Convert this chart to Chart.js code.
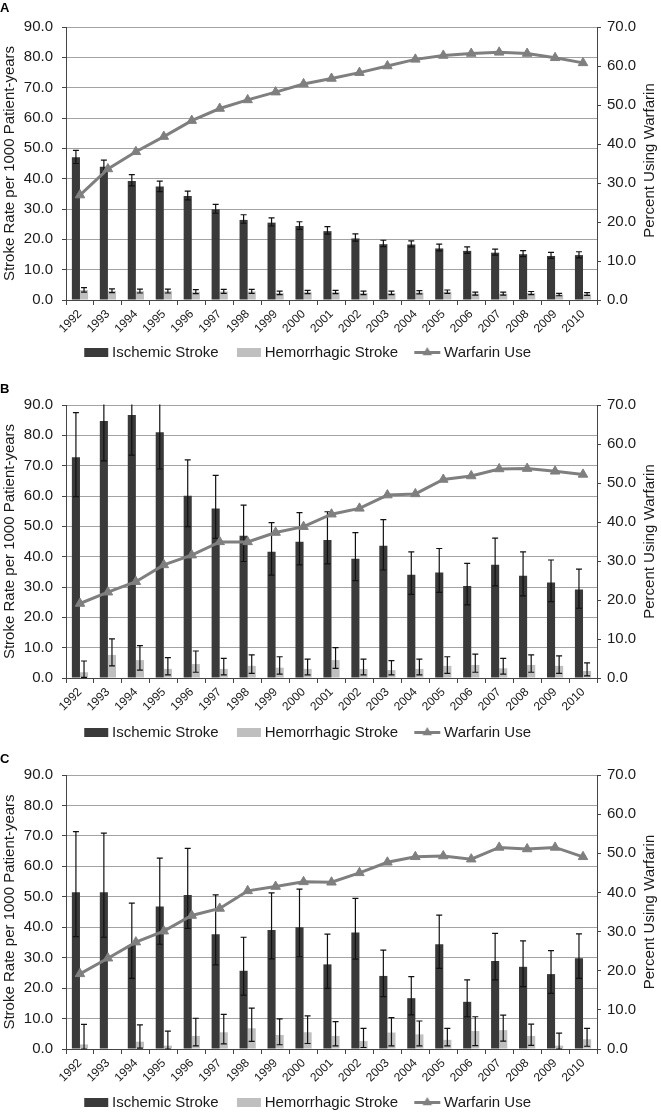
<!DOCTYPE html>
<html><head><meta charset="utf-8">
<script src="https://cdn.jsdelivr.net/npm/chart.js@4.4.1/dist/chart.umd.min.js"></script>
<style>
html,body{margin:0;padding:0;background:#fff;overflow:hidden;width:661px;height:1112px;}
.panel{position:absolute;left:0;width:661px;}
canvas{display:block;}
</style></head><body>
<div class="panel" style="top:0px"><canvas id="cA" width="661" height="370"></canvas></div>
<div class="panel" style="top:378px"><canvas id="cB" width="661" height="372"></canvas></div>
<div class="panel" style="top:748px"><canvas id="cC" width="661" height="372"></canvas></div>
<script>
// ---------- DATA ----------
const years = ['1992','1993','1994','1995','1996','1997','1998','1999','2000','2001','2002','2003','2004','2005','2006','2007','2008','2009','2010'];
const leftTicks = [0,10,20,30,40,50,60,70,80,90];
const rightTicks = [0,10,20,30,40,50,60,70];
const seriesNames = ['Ischemic Stroke','Hemorrhagic Stroke','Warfarin Use'];
const yTitleLeft = 'Stroke Rate per 1000 Patient-years';
const yTitleRight = 'Percent Using Warfarin';

// Panel A
const aIschemic     = [47.1,43.9,39.2,37.4,34.3,29.9,26.4,25.5,24.4,22.7,20.3,18.4,18.3,17.0,16.2,15.6,15.1,14.5,14.8];
const aIschemicLow  = [45.0,42.0,37.6,35.7,33.0,28.6,25.3,24.4,23.3,21.7,19.4,17.6,17.5,16.2,15.4,14.8,14.3,13.7,13.9];
const aIschemicHigh = [49.3,46.1,41.3,39.2,35.9,31.5,28.1,27.1,25.8,24.2,21.8,19.7,19.5,18.4,17.5,16.8,16.3,15.7,15.9];
const aHemorrhagic     = [3.3,3.0,2.9,2.9,2.7,2.8,2.8,2.3,2.6,2.6,2.3,2.3,2.5,2.7,2.1,2.1,2.3,1.8,1.9];
const aHemorrhagicLow  = [2.6,2.4,2.3,2.3,2.1,2.2,2.2,1.8,2.1,2.1,1.8,1.8,2.0,2.2,1.6,1.6,1.8,1.4,1.5];
const aHemorrhagicHigh = [4.1,3.7,3.6,3.6,3.4,3.5,3.5,2.9,3.2,3.2,2.9,2.9,3.1,3.3,2.6,2.6,2.8,2.2,2.4];
const aWarfarin = [26.9,33.6,38.0,41.9,46.0,49.1,51.3,53.3,55.4,56.8,58.3,60.0,61.7,62.7,63.2,63.5,63.2,62.1,60.8];

// Panel B
const bIschemic     = [72.8,84.7,86.7,81.0,60.1,55.9,46.9,41.6,44.9,45.5,39.3,43.6,34.0,34.8,30.3,37.3,33.7,31.5,29.2];
const bIschemicLow  = [59.8,71.6,73.5,68.9,49.9,46.0,38.4,33.9,37.3,37.6,32.1,35.6,27.6,28.2,24.1,30.4,27.1,25.2,23.0];
const bIschemicHigh = [87.5,99.0,101.0,94.0,71.9,66.8,57.0,51.2,54.5,54.8,47.9,52.2,41.6,42.7,37.8,46.1,41.6,38.9,35.9];
const bHemorrhagic     = [1.9,7.6,5.9,3.0,4.6,3.0,4.0,3.4,3.0,5.9,3.0,2.6,3.0,4.0,4.3,3.2,4.3,4.0,2.3];
const bHemorrhagicLow  = [0.2,4.0,2.6,1.0,1.9,1.0,1.5,1.3,1.0,3.2,1.0,1.0,1.0,1.5,1.9,1.3,1.9,1.5,0.7];
const bHemorrhagicHigh = [5.6,12.9,10.7,6.7,8.9,6.5,7.6,7.0,6.2,10.0,6.2,5.7,6.2,7.0,7.9,6.5,7.6,7.3,5.0];
const bWarfarin = [19.1,22.0,24.7,29.0,31.5,34.9,34.9,37.3,38.8,42.0,43.5,46.9,47.2,50.9,51.8,53.6,53.7,53.0,52.2];

// Panel C
const cIschemic     = [51.5,51.5,34.2,46.8,50.6,37.7,25.7,39.1,40.0,27.8,38.3,24.0,16.7,34.4,15.5,28.9,27.0,24.6,29.8];
const cIschemicLow  = [36.9,36.7,23.2,34.4,39.6,27.6,17.7,29.6,30.3,19.9,29.5,17.2,11.2,26.5,10.6,22.7,20.5,18.3,23.2];
const cIschemicHigh = [71.4,70.9,47.9,62.7,65.9,50.6,36.7,51.3,52.5,37.7,49.5,32.5,23.8,44.0,22.7,38.0,35.5,32.3,37.8];
const cHemorrhagic     = [1.5,null,2.4,1.1,4.3,5.5,6.8,4.6,5.5,4.3,2.6,5.4,4.8,3.0,5.9,6.2,4.3,1.1,3.2];
const cHemorrhagicLow  = [0.0,null,0.3,0.0,1.0,1.7,2.5,1.4,1.8,1.0,0.5,1.0,1.0,1.0,1.1,2.6,1.2,0.0,0.9];
const cHemorrhagicHigh = [8.1,null,7.9,5.9,10.1,11.4,13.4,9.9,10.9,9.0,6.8,10.3,9.2,6.8,10.6,11.1,8.2,5.2,6.8];
const cWarfarin = [19.2,23.2,27.3,30.1,34.1,35.9,40.4,41.5,42.7,42.6,45.0,47.7,49.1,49.3,48.5,51.5,51.1,51.5,49.1];

// ---------- STYLE ----------
const FONT = '"Liberation Sans", Arial, Helvetica, sans-serif';
const DARK = '#3a3a3a', LIGHT = '#bfbfbf', LINE = '#7f7f7f', GRID = '#a3a3a3', AXIS = '#454545', TEXT = '#1a1a1a';
Chart.defaults.font.family = FONT;
Chart.defaults.color = TEXT;

// legend swatches (drawn off-centre inside a wider transparent canvas so that
// the gap between swatch and text is small and the gap between items is larger)
function boxImg(color){
  const c = document.createElement('canvas'); c.width = 40; c.height = 9;
  const g = c.getContext('2d'); g.fillStyle = color; g.fillRect(14,0,24,9); return c;
}
function lineImg(){
  const c = document.createElement('canvas'); c.width = 40; c.height = 13;
  const g = c.getContext('2d');
  const m = 12;
  g.strokeStyle = LINE; g.lineWidth = 3; g.beginPath(); g.moveTo(m,6.5); g.lineTo(m+26,6.5); g.stroke();
  g.fillStyle = LINE; const r = 5.5, cx = m + 13; g.beginPath();
  g.moveTo(cx,6.5-r); g.lineTo(cx+r*0.866,6.5+r/2); g.lineTo(cx-r*0.866,6.5+r/2); g.closePath(); g.fill();
  return c;
}
const legendImgs = [boxImg(DARK), boxImg(LIGHT), lineImg()];

const errorBars = {
  id: 'errorBars',
  afterDatasetDraw(chart, args) {
    const ds = chart.data.datasets[args.index];
    if (!ds.errLow) return;
    const ys = chart.scales[ds.yAxisID || 'y'];
    const {ctx, chartArea} = chart;
    ctx.save();
    ctx.beginPath();
    ctx.rect(chartArea.left, chartArea.top - 0.5, chartArea.right - chartArea.left, chartArea.bottom - chartArea.top + 1);
    ctx.clip();
    ctx.strokeStyle = '#111'; ctx.lineWidth = 1.2;
    args.meta.data.forEach((bar, i) => {
      const lo = ds.errLow[i], hi = ds.errHigh[i];
      if (lo == null || hi == null || ds.data[i] == null) return;
      const x = bar.x;
      const yl = ys.getPixelForValue(lo), yh = ys.getPixelForValue(hi);
      ctx.beginPath();
      ctx.moveTo(x, yl); ctx.lineTo(x, yh);
      ctx.moveTo(x - 3, yh); ctx.lineTo(x + 3, yh);
      ctx.moveTo(x - 3, yl); ctx.lineTo(x + 3, yl);
      ctx.stroke();
    });
    ctx.restore();
  }
};

const rightTitle = {
  id: 'rightTitle',
  afterDraw(chart, args, opts) {
    const {ctx, chartArea} = chart;
    ctx.save();
    ctx.translate(opts.x, (chartArea.top + chartArea.bottom) / 2 + (opts.dy || 0));
    ctx.rotate(-Math.PI / 2);
    ctx.font = '15px ' + FONT;
    ctx.fillStyle = TEXT; ctx.textAlign = 'center'; ctx.textBaseline = 'middle';
    ctx.fillText(opts.text, 0, 0);
    ctx.restore();
  }
};

const legendShift = {
  id: 'legendShift',
  afterInit(chart, args, opts) {
    const lg = chart.legend;
    if (!lg) return;
    const orig = lg.draw;
    lg.draw = function(area) {
      const c = chart.ctx; c.save(); c.translate(opts.dx || 0, 0);
      orig.call(this, area); c.restore();
    };
  }
};

function makePanel(id, letter, P, d) {
  new Chart(document.getElementById(id), {
    data: {
      labels: years,
      datasets: [
        { type: 'bar', label: seriesNames[0], data: d.isc, errLow: d.iscLow, errHigh: d.iscHigh,
          backgroundColor: DARK, yAxisID: 'y', order: 1,
          categoryPercentage: 0.58, barPercentage: 1.0 },
        { type: 'bar', label: seriesNames[1], data: d.hem, errLow: d.hemLow, errHigh: d.hemHigh,
          backgroundColor: LIGHT, yAxisID: 'y', order: 2,
          categoryPercentage: 0.58, barPercentage: 1.0 },
        { type: 'line', label: seriesNames[2], data: d.war, yAxisID: 'y1', order: 0,
          borderColor: LINE, backgroundColor: LINE, borderWidth: 3, tension: 0,
          pointStyle: 'triangle', pointRadius: 5.5, pointBorderWidth: 1,
          pointBackgroundColor: LINE, pointBorderColor: LINE }
      ]
    },
    options: {
      responsive: false, animation: false, devicePixelRatio: 1, events: [],
      layout: { padding: 0 },
      scales: {
        x: {
          type: 'category', offset: true,
          grid: { drawOnChartArea: false, offset: true, tickLength: 5, tickColor: AXIS, color: AXIS },
          border: { color: AXIS, width: 1 },
          ticks: { autoSkip: false, minRotation: 45, maxRotation: 45, padding: 2,
                   font: { size: 12 }, color: TEXT },
          afterFit(s) { s.height = P.xh; }
        },
        y: {
          position: 'left', min: leftTicks[0], max: leftTicks[leftTicks.length - 1],
          afterBuildTicks(s) { s.ticks = leftTicks.map(v => ({ value: v })); },
          grid: { color: GRID, lineWidth: 1, tickLength: 4, tickColor: AXIS },
          border: { color: AXIS, width: 1 },
          ticks: { padding: 9, font: { size: 15 }, color: TEXT, callback: v => Number(v).toFixed(1) },
          title: { display: true, text: yTitleLeft, font: { size: 15, lineHeight: 1 }, color: TEXT,
                   padding: { top: 2, bottom: 0 } },
          afterFit(s) { s.width = 66; }
        },
        y1: {
          position: 'right', min: rightTicks[0], max: rightTicks[rightTicks.length - 1],
          afterBuildTicks(s) { s.ticks = rightTicks.map(v => ({ value: v })); },
          grid: { drawOnChartArea: false, tickLength: 4, tickColor: AXIS, color: AXIS },
          border: { color: AXIS, width: 1 },
          ticks: { padding: 6, font: { size: 15 }, color: TEXT, callback: v => Number(v).toFixed(1) },
          afterFit(s) { s.width = 64; }
        }
      },
      plugins: {
        tooltip: { enabled: false },
        title: { display: true, text: letter, align: 'start', color: '#000',
                 font: { size: 13, weight: 'bold', lineHeight: 1 },
                 padding: { top: P.tTop, bottom: 27 - 13 - P.tTop } },
        legend: {
          position: 'bottom', align: 'center',
          labels: {
            usePointStyle: true, pointStyleWidth: 28.5, padding: 10,
            font: { size: 15 }, color: TEXT,
            sort: (a, b) => a.datasetIndex - b.datasetIndex,
            generateLabels(chart) {
              const items = Chart.defaults.plugins.legend.labels.generateLabels(chart);
              items.forEach(it => { it.pointStyle = legendImgs[it.datasetIndex]; it.lineWidth = 0; });
              return items;
            }
          }
        },
        rightTitle: { text: yTitleRight, x: 650, dy: P.rdy },
        legendShift: { dx: -27 }
      }
    },
    plugins: [errorBars, rightTitle, legendShift]
  });
}

makePanel('cA', 'A', { xh: 35, tTop: 2, rdy: -3 },
  { isc: aIschemic, iscLow: aIschemicLow, iscHigh: aIschemicHigh,
    hem: aHemorrhagic, hemLow: aHemorrhagicLow, hemHigh: aHemorrhagicHigh, war: aWarfarin });
makePanel('cB', 'B', { xh: 37, tTop: 4.5, rdy: 0 },
  { isc: bIschemic, iscLow: bIschemicLow, iscHigh: bIschemicHigh,
    hem: bHemorrhagic, hemLow: bHemorrhagicLow, hemHigh: bHemorrhagicHigh, war: bWarfarin });
makePanel('cC', 'C', { xh: 36, tTop: 4.5, rdy: 0 },
  { isc: cIschemic, iscLow: cIschemicLow, iscHigh: cIschemicHigh,
    hem: cHemorrhagic, hemLow: cHemorrhagicLow, hemHigh: cHemorrhagicHigh, war: cWarfarin });
</script>
</body></html>
